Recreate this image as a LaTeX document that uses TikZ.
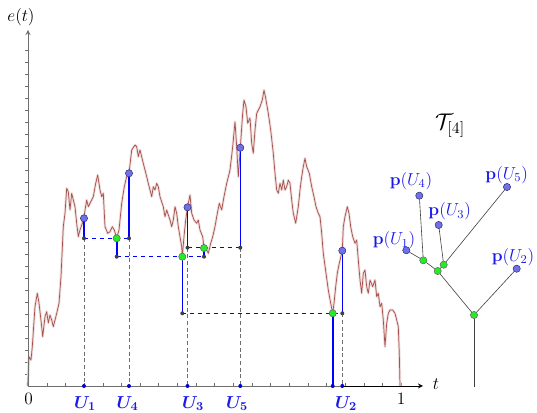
\RequirePackage{fix-cm}
\documentclass[tikz,border=0pt]{standalone}
\usepackage{amsmath}
\usetikzlibrary{arrows}

\definecolor{exccol}{RGB}{168,82,78}
\definecolor{dotblue}{RGB}{112,112,232}
\definecolor{dotedge}{RGB}{50,50,120}
\definecolor{dotgreen}{RGB}{40,235,40}
\definecolor{labelblue}{RGB}{25,25,235}
\definecolor{axisgray}{RGB}{110,110,110}

\tikzset{
  excursion/.style={draw=exccol, line width=0.55pt, line join=round},
  exchalo/.style={draw=exccol!18, line width=2pt, line join=round},
  bluedot/.style={circle, fill=dotblue, draw=dotedge, line width=0.4pt, inner sep=0pt, minimum size=5.4pt},
  greendot/.style={circle, fill=dotgreen, draw=black!60, line width=0.4pt, inner sep=0pt, minimum size=5.4pt},
  blackdot/.style={circle, fill=black!75, inner sep=0pt, minimum size=3pt},
  axisdot/.style={circle, fill=blue!85!black, inner sep=0pt, minimum size=3pt},
  ubar/.style={draw=blue, line width=1.2pt},
  uhoriz/.style={draw=blue, dashed, line width=0.55pt},
  udrop/.style={draw=axisgray, dash pattern=on 3pt off 2pt, line width=0.6pt},
  ulabel/.style={text=labelblue, font=\fontsize{13}{15}\selectfont\boldmath},
  plabel/.style={text=labelblue, font=\fontsize{13}{15}\selectfont},
  branch/.style={draw=black!75, line width=0.45pt}
}

\begin{document}
\begin{tikzpicture}[x=0.75pt,y=-0.75pt,>=stealth]
\useasboundingbox (0,0) rectangle (537,413);

% axes
\coordinate (O) at (28,386);
\coordinate (ytop) at (28,30);
\coordinate (xend) at (423,386);
\foreach \k in {1,...,28}
  \draw[axisgray, line width=0.5pt] (28,386-12*\k) -- ++(-3,0);
\foreach \k in {1,...,20}
  \draw[axisgray, line width=0.5pt] (28.2+18.66*\k,386) -- ++(0,-2.5);

% the excursion
\draw[exchalo] plot coordinates {(27.7,386)(28.3,373)(29,356.7)(31,360)(32.3,346.7)(35,306.7)(37.3,293.3)(39,303)(41.7,326.7)(42.7,336.7)(45,316.7)(46.7,311.7)(48.3,323)(50,315)(51.7,320)(53.3,326.7)(56.7,313.3)(59,303.3)(61,276.7)(63.3,226.7)(65,213.3)(66.7,188.3)(68.3,191.7)(70,210)(71.7,193.3)(73.3,200)(75,206.7)(76.7,223.3)(78.3,236.7)(80,230)(84,218.3)(85,210)(86.7,200)(88.3,206.7)(90,203.3)(93.3,196.7)(95.7,183.3)(97.7,175)(100,190)(101.7,196.7)(103.3,193.3)(105,226.7)(107.7,233.3)(110,231.7)(112.3,226.7)(114.3,230)(116.7,238.3)(119,230)(121.7,203.3)(124.3,186.7)(126.7,176.7)(129,173.3)(131.7,150)(135,145)(136.7,146.7)(138.3,156.7)(140,150)(143.3,163.3)(145,170)(146.7,176.7)(148.3,183.3)(150,190)(151.7,196.7)(153.3,186.7)(155,190)(156.7,183.3)(158.3,186.7)(160,196.7)(163.3,206.7)(165,216.7)(166.7,210)(170,220)(171.7,226.7)(173.3,220)(175,206.7)(176.7,213.3)(178.3,226.7)(180,236.7)(181.7,246.7)(182.3,256.7)(184,236.7)(185.7,220)(187.5,207.3)(190,195)(191.7,213.3)(194,220)(196.7,223.3)(198.3,220)(200,230)(202.7,236.7)(204,248)(206.7,250)(208.3,253.3)(210.7,243.3)(212.7,236.7)(215,226.7)(216.7,216.7)(219.3,203.3)(221.7,210)(224,196.7)(226.7,183.3)(230,170)(232.7,146.7)(235,121.7)(236.7,146.7)(238.3,176.7)(240.3,147.7)(242.7,113.3)(244,100)(246,106.7)(247.7,123.3)(250,118)(251.7,143.3)(253.3,153.3)(255,130)(256.7,113.3)(260,106.7)(262.3,100)(264,90)(265.7,98.3)(268.3,113.3)(270.7,130)(273.3,153.3)(275,173.3)(276.7,190)(278.3,193.3)(280,183.3)(281.7,190)(283.3,180)(285,190)(286.7,186.7)(288.3,180)(290,183.3)(291.7,200)(293.3,213.3)(295.7,223.3)(298.3,206.7)(300,190)(301.7,176.7)(303.3,166.7)(305,158.3)(306.7,166.7)(309.3,173.3)(311.7,186.7)(314,196.7)(316,206.7)(318.3,213.3)(320,216.7)(321.7,233.3)(323.3,253.3)(326,273.3)(328.3,290)(330.7,303.3)(332.7,313.3)(334,303.3)(335.7,286.7)(337.3,273.3)(339.3,263.3)(342.3,250.7)(343.3,226.7)(345,216.7)(347.3,206.7)(349,213.3)(350.7,226.7)(352.7,236.7)(355,243.3)(356.7,240)(358.3,260)(360,280)(361.7,293.3)(363.3,273.3)(365,270)(366.7,286.7)(368.3,293.3)(370,280)(372.7,286.7)(375,280)(376.7,296.7)(378.3,293.3)(380,306.7)(381.7,303.3)(383.3,320)(385,346.7)(386.7,323.3)(388.3,313.3)(390,310)(392.7,310)(395,313.3)(396.7,320)(398.3,326.7)(399.3,353.3)(400,386)};
\draw[excursion] plot coordinates {(27.7,386)(28.3,373)(29,356.7)(31,360)(32.3,346.7)(35,306.7)(37.3,293.3)(39,303)(41.7,326.7)(42.7,336.7)(45,316.7)(46.7,311.7)(48.3,323)(50,315)(51.7,320)(53.3,326.7)(56.7,313.3)(59,303.3)(61,276.7)(63.3,226.7)(65,213.3)(66.7,188.3)(68.3,191.7)(70,210)(71.7,193.3)(73.3,200)(75,206.7)(76.7,223.3)(78.3,236.7)(80,230)(84,218.3)(85,210)(86.7,200)(88.3,206.7)(90,203.3)(93.3,196.7)(95.7,183.3)(97.7,175)(100,190)(101.7,196.7)(103.3,193.3)(105,226.7)(107.7,233.3)(110,231.7)(112.3,226.7)(114.3,230)(116.7,238.3)(119,230)(121.7,203.3)(124.3,186.7)(126.7,176.7)(129,173.3)(131.7,150)(135,145)(136.7,146.7)(138.3,156.7)(140,150)(143.3,163.3)(145,170)(146.7,176.7)(148.3,183.3)(150,190)(151.7,196.7)(153.3,186.7)(155,190)(156.7,183.3)(158.3,186.7)(160,196.7)(163.3,206.7)(165,216.7)(166.7,210)(170,220)(171.7,226.7)(173.3,220)(175,206.7)(176.7,213.3)(178.3,226.7)(180,236.7)(181.7,246.7)(182.3,256.7)(184,236.7)(185.7,220)(187.5,207.3)(190,195)(191.7,213.3)(194,220)(196.7,223.3)(198.3,220)(200,230)(202.7,236.7)(204,248)(206.7,250)(208.3,253.3)(210.7,243.3)(212.7,236.7)(215,226.7)(216.7,216.7)(219.3,203.3)(221.7,210)(224,196.7)(226.7,183.3)(230,170)(232.7,146.7)(235,121.7)(236.7,146.7)(238.3,176.7)(240.3,147.7)(242.7,113.3)(244,100)(246,106.7)(247.7,123.3)(250,118)(251.7,143.3)(253.3,153.3)(255,130)(256.7,113.3)(260,106.7)(262.3,100)(264,90)(265.7,98.3)(268.3,113.3)(270.7,130)(273.3,153.3)(275,173.3)(276.7,190)(278.3,193.3)(280,183.3)(281.7,190)(283.3,180)(285,190)(286.7,186.7)(288.3,180)(290,183.3)(291.7,200)(293.3,213.3)(295.7,223.3)(298.3,206.7)(300,190)(301.7,176.7)(303.3,166.7)(305,158.3)(306.7,166.7)(309.3,173.3)(311.7,186.7)(314,196.7)(316,206.7)(318.3,213.3)(320,216.7)(321.7,233.3)(323.3,253.3)(326,273.3)(328.3,290)(330.7,303.3)(332.7,313.3)(334,303.3)(335.7,286.7)(337.3,273.3)(339.3,263.3)(342.3,250.7)(343.3,226.7)(345,216.7)(347.3,206.7)(349,213.3)(350.7,226.7)(352.7,236.7)(355,243.3)(356.7,240)(358.3,260)(360,280)(361.7,293.3)(363.3,273.3)(365,270)(366.7,286.7)(368.3,293.3)(370,280)(372.7,286.7)(375,280)(376.7,296.7)(378.3,293.3)(380,306.7)(381.7,303.3)(383.3,320)(385,346.7)(386.7,323.3)(388.3,313.3)(390,310)(392.7,310)(395,313.3)(396.7,320)(398.3,326.7)(399.3,353.3)(400,386)};

% points on the excursion and the minima between them
\coordinate (e1) at (84,218.3);
\coordinate (e4) at (129,173.3);
\coordinate (e3) at (187.5,207.3);
\coordinate (e5) at (240.3,147.7);
\coordinate (e2) at (342.3,250.7);
\coordinate (b1) at (84,238.3);
\coordinate (b4) at (129,238.3);
\coordinate (b3) at (187.5,247.7);
\coordinate (b5) at (240.3,247.7);
\coordinate (b2) at (342.3,313.3);
\coordinate (m14) at (116.7,238.3);
\coordinate (m35) at (204,248);
\coordinate (m1435) at (182.3,256.7);
\coordinate (mall) at (332.7,313.3);
\coordinate (c14) at (116.7,256.7);
\coordinate (c35) at (204,256.7);
\coordinate (c1435) at (182.3,313.3);
\coordinate (a1) at (84,386);
\coordinate (a4) at (129,386);
\coordinate (a3) at (187.5,386);
\coordinate (a5) at (240.3,386);
\coordinate (a2) at (342.3,386);
\coordinate (aall) at (332.7,386);

% axis lines
\draw[axisgray, line width=0.7pt] (O) -- (a2);
\draw[->, black, line width=0.7pt] (a2) -- (xend);
\draw[->, axisgray, line width=0.7pt] (O) -- (ytop);

% dashed drops and levels
\foreach \i in {1,4,3,5,2}
  \draw[udrop] (b\i) -- (a\i);
\draw[uhoriz] (b1) -- (b4);
\draw[uhoriz] (c14) -- (c35);
\draw[uhoriz] (b3) -- (b5);
\draw[uhoriz] (c1435) -- (b2);

% heights
\foreach \i in {1,4,3,5,2}
  \draw[ubar] (b\i) -- (e\i);
\draw[ubar] (m14) -- (c14);
\draw[ubar] (m35) -- (c35);
\draw[ubar] (m1435) -- (c1435);
\draw[ubar] (mall) -- (aall);

% dots
\foreach \i in {1,4,3,5,2} {
  \node[blackdot] (b\i-dot) at (b\i) {};
  \node[bluedot] (e\i-dot) at (e\i) {};
  \node[axisdot] (a\i-dot) at (a\i) {};
}
\node[axisdot] (aall-dot) at (aall) {};
\node[blackdot] (c14-dot) at (c14) {};
\node[blackdot] (c35-dot) at (c35) {};
\node[blackdot] (c1435-dot) at (c1435) {};
\node[greendot] (m14-dot) at (m14) {};
\node[greendot] (m35-dot) at (m35) {};
\node[greendot] (m1435-dot) at (m1435) {};
\node[greendot] (mall-dot) at (mall) {};

% axis labels
\node[font=\fontsize{13}{15}\selectfont] (elabel) at (21,17) {$e(t)$};
\node[font=\fontsize{13}{15}\selectfont] (zero) at (28.5,399) {$0$};
\node[font=\fontsize{13}{15}\selectfont] (one) at (401,399) {$1$};
\node[font=\fontsize{13}{15}\selectfont] (tlabel) at (436,384) {$t$};
\node[ulabel] (u1) at (85,403.5) {$U_1$};
\node[ulabel] (u4) at (127.5,403.5) {$U_4$};
\node[ulabel] (u3) at (193,403.5) {$U_3$};
\node[ulabel] (u5) at (237,403.5) {$U_5$};
\node[ulabel] (u2) at (346,403.5) {$U_2$};

% the tree
\node[bluedot] (p1) at (406.3,250.3) {};
\node[bluedot] (p4) at (419.3,195.7) {};
\node[bluedot] (p3) at (438.7,225) {};
\node[bluedot] (p5) at (507,187) {};
\node[bluedot] (p2) at (516.7,268.7) {};
\node[greendot] (g14) at (423.3,260.3) {};
\node[greendot] (g35) at (443.7,264.7) {};
\node[greendot] (g1435) at (437.7,271) {};
\node[greendot] (groot) at (474,315) {};
\coordinate (base) at (474,387);
\draw[branch] (p1) -- (g14);
\draw[branch] (p4) -- (g14);
\draw[branch] (g14) -- (g1435);
\draw[branch] (p3) -- (g35);
\draw[branch] (p5) -- (g35);
\draw[branch] (g35) -- (g1435);
\draw[branch] (g1435) -- (groot);
\draw[branch] (p2) -- (groot);
\draw[branch] (groot) -- (base);

\node[plabel] (lp4) at (411,181) {$\mathbf{p}(U_4)$};
\node[plabel] (lp3) at (449.7,211.5) {$\mathbf{p}(U_3)$};
\node[plabel] (lp5) at (506.7,175) {$\mathbf{p}(U_5)$};
\node[plabel] (lp1) at (394,240.5) {$\mathbf{p}(U_1)$};
\node[plabel] (lp2) at (513,257) {$\mathbf{p}(U_2)$};
\node[font=\fontsize{17}{20}\selectfont] (tree) at (450,126) {$\mathcal{T}_{[4]}$};
\end{tikzpicture}
\end{document}
